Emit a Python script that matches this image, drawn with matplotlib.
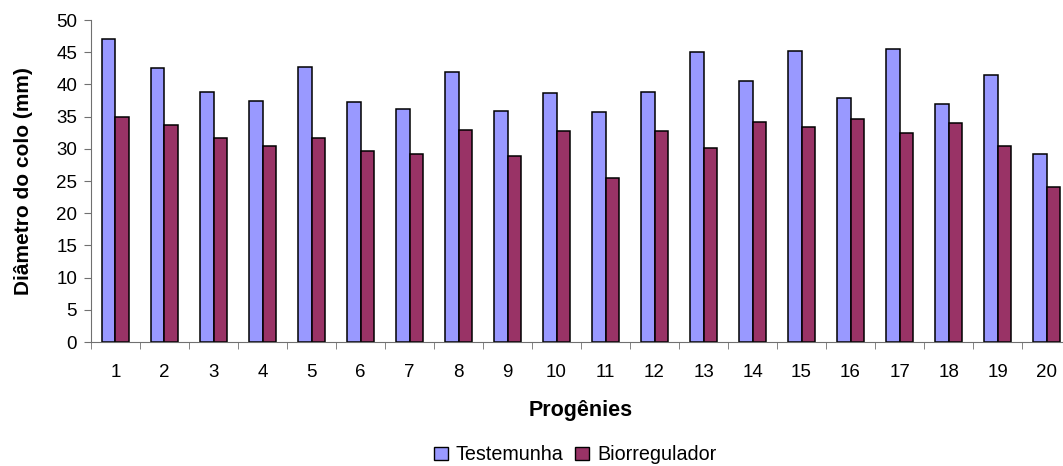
import numpy as np
import matplotlib
matplotlib.use('Agg')
import matplotlib.pyplot as plt
from matplotlib.patches import Patch

progenies = [str(i) for i in range(1, 21)]
testemunha = [47.0, 42.5, 38.9, 37.5, 42.7, 37.2, 36.2, 42.0, 35.9, 38.7,
              35.7, 38.9, 45.0, 40.5, 45.2, 37.95, 45.5, 37.0, 41.5, 29.2]
biorregulador = [34.9, 33.65, 31.7, 30.4, 31.7, 29.7, 29.2, 32.9, 28.9, 32.7,
                 25.4, 32.7, 30.2, 34.2, 33.4, 34.7, 32.4, 33.95, 30.4, 24.1]

plt.rcParams['font.family'] = ['Liberation Sans', 'DejaVu Sans']

fig = plt.figure(figsize=(10.63, 4.66), dpi=100)
# axes run a little past the right edge, as in the original
ax = fig.add_axes([0.0856, 0.266, 0.922, 0.691])

x = np.arange(len(progenies))
w = 0.28
ax.bar(x - w / 2, testemunha, w, color='#9999FF', edgecolor='black', linewidth=1.1, label='Testemunha')
ax.bar(x + w / 2, biorregulador, w, color='#993366', edgecolor='black', linewidth=1.1, label='Biorregulador')

ax.set_xlim(-0.5, len(progenies) - 0.5)
ax.set_ylim(0, 50)
ax.set_yticks(np.arange(0, 51, 5))
ax.set_xticks(x)
ax.set_xticklabels(progenies)
ax.set_xticks(np.arange(-0.5, len(progenies), 1), minor=True)
ax.tick_params(axis='x', which='major', length=0, pad=15.5, labelsize=13.5)
ax.tick_params(axis='x', which='minor', length=5, color='#707070')
ax.tick_params(axis='y', length=5, color='#707070', labelsize=13.5, pad=5)

for s in ['top', 'right']:
    ax.spines[s].set_visible(False)
for s in ['left', 'bottom']:
    ax.spines[s].set_color('#707070')

ax.set_xlabel('Progênies', fontsize=15.5, fontweight='bold', va='center')
ax.xaxis.set_label_coords(0.5, -(410 - 342) / 322)
ax.set_ylabel('Diâmetro do colo (mm)', fontsize=15, fontweight='bold', va='center')
ax.yaxis.set_label_coords((23.5 - 91) / 980, 0.5)

handles = [Patch(facecolor='#9999FF', edgecolor='black'),
           Patch(facecolor='#993366', edgecolor='black')]
fig.legend(handles, ['Testemunha', 'Biorregulador'], loc='center', bbox_to_anchor=(0.541, 0.024),
           ncol=2, frameon=False, fontsize=14.2, handlelength=0.7, handleheight=0.7,
           handletextpad=0.4, columnspacing=0.6)

fig.savefig('out.png', dpi=100)
